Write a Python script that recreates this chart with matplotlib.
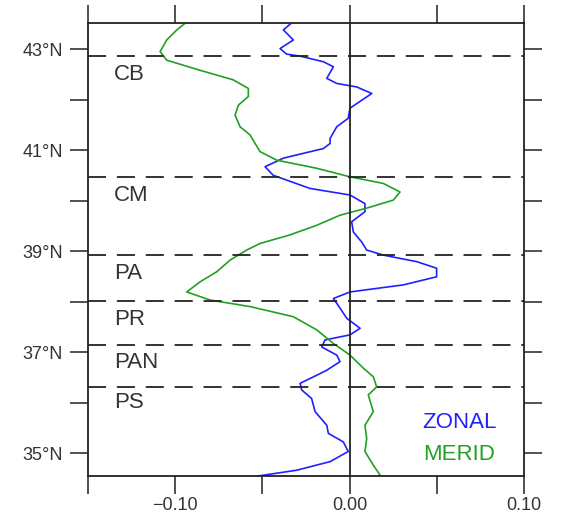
import matplotlib
matplotlib.use("Agg")
import matplotlib.pyplot as plt
from matplotlib.ticker import FixedLocator

plt.rcParams['font.family'] = ['Liberation Sans', 'DejaVu Sans']

# 위도 (ZONAL)
zonal_lat = [43.52, 43.38, 43.18, 43.01, 42.90, 42.86, 42.75, 42.65, 42.42, 42.32,
             42.25, 42.12, 41.83, 41.63, 41.46, 41.23, 41.13, 41.03, 40.84, 40.67,
             40.50, 40.24, 40.11, 39.94, 39.78, 39.58, 39.38, 39.18, 39.02, 38.92,
             38.79, 38.66, 38.49, 38.33, 38.19, 38.06, 37.87, 37.67, 37.47, 37.34,
             37.24, 37.10, 36.94, 36.81, 36.64, 36.54, 36.38, 36.25, 36.08, 35.82,
             35.55, 35.39, 35.22, 35.03, 34.83, 34.66, 34.53]
zonal_val = [-0.0332, -0.0380, -0.0323, -0.0399, -0.0361, -0.0284, -0.0151, -0.0093, -0.0131, -0.0074,
             0.0041, 0.0127, 0.0002, -0.0008, -0.0074, -0.0112, -0.0112, -0.0151, -0.0380, -0.0485,
             -0.0438, -0.0227, 0.0002, 0.0088, 0.0088, 0.0012, 0.0021, 0.0069, 0.0098, 0.0193,
             0.0385, 0.0499, 0.0499, 0.0308, 0.0002, -0.0093, -0.0055, -0.0017, 0.0060, 0.0002,
             -0.0141, -0.0160, -0.0074, -0.0055, -0.0131, -0.0189, -0.0284, -0.0275, -0.0218, -0.0198,
             -0.0131, -0.0122, -0.0036, -0.0008, -0.0112, -0.0303, -0.0555]

# 위도 (MERID)
merid_lat = [43.51, 43.38, 43.18, 42.95, 42.78, 42.58, 42.39, 42.22, 42.06, 41.89,
             41.69, 41.46, 41.30, 41.13, 40.97, 40.80, 40.64, 40.47, 40.34, 40.17,
             40.01, 39.85, 39.71, 39.51, 39.32, 39.15, 39.02, 38.82, 38.59, 38.39,
             38.19, 38.03, 37.90, 37.70, 37.44, 37.17, 36.94, 36.68, 36.51, 36.31,
             36.15, 35.82, 35.55, 35.29, 35.03, 34.76, 34.56]
merid_val = [-0.0944, -0.0991, -0.1049, -0.1087, -0.1049, -0.0858, -0.0667, -0.0581, -0.0581, -0.0638,
             -0.0657, -0.0628, -0.0571, -0.0542, -0.0514, -0.0418, -0.0189, 0.0002, 0.0193, 0.0289,
             0.0251, 0.0098, -0.0055, -0.0189, -0.0342, -0.0514, -0.0590, -0.0686, -0.0762, -0.0858,
             -0.0934, -0.0800, -0.0571, -0.0323, -0.0189, -0.0093, 0.0002, 0.0079, 0.0136, 0.0155,
             0.0107, 0.0136, 0.0088, 0.0098, 0.0088, 0.0136, 0.0175]

# 해역 경계선과 이름
bound_lat = [42.86, 40.47, 38.93, 38.02, 37.13, 36.31]
region_names = ["CB", "CM", "PA", "PR", "PAN", "PS"]
region_lat = [42.5, 40.1, 38.55, 37.65, 36.8, 36.0]

fig = plt.figure(figsize=(5.61, 5.15), dpi=100)
ax = fig.add_axes([0.157, 0.0757, 0.777, 0.879])

ax.plot(zonal_val, zonal_lat, color='#2020ff', lw=1.2)
ax.plot(merid_val, merid_lat, color='#22a022', lw=1.2)
ax.axvline(0, color='#222222', lw=1.3)
for b in bound_lat:
    ax.axhline(b, color='#222222', lw=1.3, ls=(0, (10, 6)))

for name, lat in zip(region_names, region_lat):
    ax.text(-0.135, lat, name, fontsize=16, color='#333333', va='center', ha='left')

ax.text(0.063, 35.6, "ZONAL", fontsize=16, color='#2020ff', ha='center', va='center')
ax.text(0.063, 34.98, "MERID", fontsize=16, color='#22a022', ha='center', va='center')

ax.set_xlim(-0.15, 0.10)
ax.set_ylim(34.545, 43.51)

ax.xaxis.set_major_locator(FixedLocator([-0.10, 0.0, 0.10]))
ax.xaxis.set_minor_locator(FixedLocator([-0.15, -0.05, 0.05]))
ax.set_xticklabels(["\u22120.10", "0.00", "0.10"])
ax.yaxis.set_major_locator(FixedLocator([35, 37, 39, 41, 43]))
ax.yaxis.set_minor_locator(FixedLocator([36, 38, 40, 42]))
ax.set_yticklabels(["35\u00b0N", "37\u00b0N", "39\u00b0N", "41\u00b0N", "43\u00b0N"])

ax.tick_params(which='both', direction='out', length=13, width=1.2, color='#333333',
               top=True, right=True, labelsize=13, labelcolor='#333333', pad=5)
ax.tick_params(axis='x', pad=2)
for s in ax.spines.values():
    s.set_linewidth(1.3)
    s.set_color('#222222')

fig.savefig("out.png", dpi=100)
